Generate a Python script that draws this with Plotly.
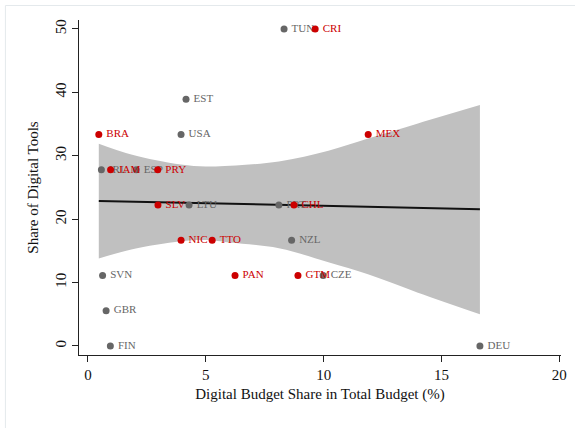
import plotly.graph_objects as go

# Country observations: digital budget share (%) vs share of digital tools
countries = ["TUN", "CRI", "EST", "BRA", "USA", "MEX", "IRL", "JAM", "ESP", "PRY",
             "SLV", "LTU", "PRT", "CHL", "NIC", "TTO", "NZL", "SVN", "PAN", "GTM",
             "CZE", "GBR", "FIN", "DEU"]
budget_share = [8.32, 9.64, 4.16, 0.46, 3.95, 11.89, 0.57, 0.96, 2.05, 2.96,
                2.97, 4.29, 8.10, 8.74, 3.95, 5.27, 8.64, 0.62, 6.24, 8.91,
                9.98, 0.77, 0.95, 16.63]
tool_share = [50.0, 50.0, 38.89, 33.33, 33.33, 33.33, 27.78, 27.78, 27.78, 27.78,
              22.22, 22.22, 22.22, 22.22, 16.67, 16.67, 16.67, 11.11, 11.11, 11.11,
              11.11, 5.56, 0.0, 0.0]
group = ["other", "latam", "other", "latam", "other", "latam", "other", "latam", "other", "latam",
         "latam", "other", "other", "latam", "latam", "latam", "other", "other", "latam", "latam",
         "other", "other", "other", "other"]

# Linear fit and its 95% confidence band
fit_x = [0.46, 16.63]
fit_y = [22.87, 21.56]
ci_x = [0.46, 1.84, 3.93, 5.0, 6.03, 8.1, 10.2, 11.88, 14.0, 16.63]
ci_hi = [31.9, 30.2, 28.6, 28.3, 28.4, 29.1, 30.8, 32.7, 35.1, 38.0]
ci_lo = [13.8, 15.2, 16.5, 16.7, 16.3, 15.4, 13.2, 11.3, 8.4, 5.0]

colors = {"latam": "#cc0000", "other": "#666666"}
FONT = "Liberation Serif"

fig = go.Figure()

# band: upper edge, then lower edge filled up to it
fig.add_trace(go.Scatter(
    x=ci_x, y=ci_hi, mode="lines",
    line=dict(width=0, color="#c0c0c0", shape="spline", smoothing=1.0),
    hoverinfo="skip", showlegend=False))
fig.add_trace(go.Scatter(
    x=ci_x, y=ci_lo, mode="lines", fill="tonexty", fillcolor="#c0c0c0",
    line=dict(width=0, color="#c0c0c0", shape="spline", smoothing=1.0),
    hoverinfo="skip", showlegend=False))

fig.add_trace(go.Scatter(
    x=fit_x, y=fit_y, mode="lines",
    line=dict(color="#111111", width=2), showlegend=False))

for g in ["other", "latam"]:
    idx = [i for i, v in enumerate(group) if v == g]
    fig.add_trace(go.Scatter(
        x=[budget_share[i] for i in idx],
        y=[tool_share[i] for i in idx],
        text=["\u2009" + countries[i] for i in idx],
        mode="markers+text", textposition="middle right",
        marker=dict(color=colors[g], size=7),
        textfont=dict(family=FONT, size=11, color=colors[g]),
        cliponaxis=False, showlegend=False))

W, H = 575, 428
L, R, T, B = 79, 8, 20, 73
pw, ph = W - L - R, H - T - B

fig.update_layout(
    width=W, height=H,
    margin=dict(l=L, r=R, t=T, b=B),
    paper_bgcolor="white", plot_bgcolor="white",
    font=dict(family=FONT, size=15, color="#111111"),
    xaxis=dict(range=[-0.38, 20.07], tickvals=[0, 5, 10, 15, 20],
               showgrid=False, zeroline=False, showline=True, linecolor="#222222",
               linewidth=1, ticks="outside", ticklen=6, tickcolor="#222222",
               tickfont=dict(size=15),
               title=dict(text="Digital Budget Share in Total Budget (%)",
                          font=dict(size=15), standoff=6)),
    yaxis=dict(range=[-1.42, 51.4], tickvals=[0, 10, 20, 30, 40, 50],
               tickangle=-90,
               showgrid=False, zeroline=False, showline=True, linecolor="#222222",
               linewidth=1, ticks="outside", ticklen=6, tickcolor="#222222",
               tickfont=dict(size=15),
               title=dict(text="Share of Digital Tools", font=dict(size=15), standoff=10)),
    shapes=[dict(type="rect", xref="paper", yref="paper",
                 x0=(4.5 - L) / pw, x1=(W + 10 - L) / pw,
                 y0=-(H + 10 - T - ph) / ph, y1=1 + (T - 5.5) / ph,
                 line=dict(color="#e4e9ec", width=1), layer="below")],
)

fig.write_html("out.html")
